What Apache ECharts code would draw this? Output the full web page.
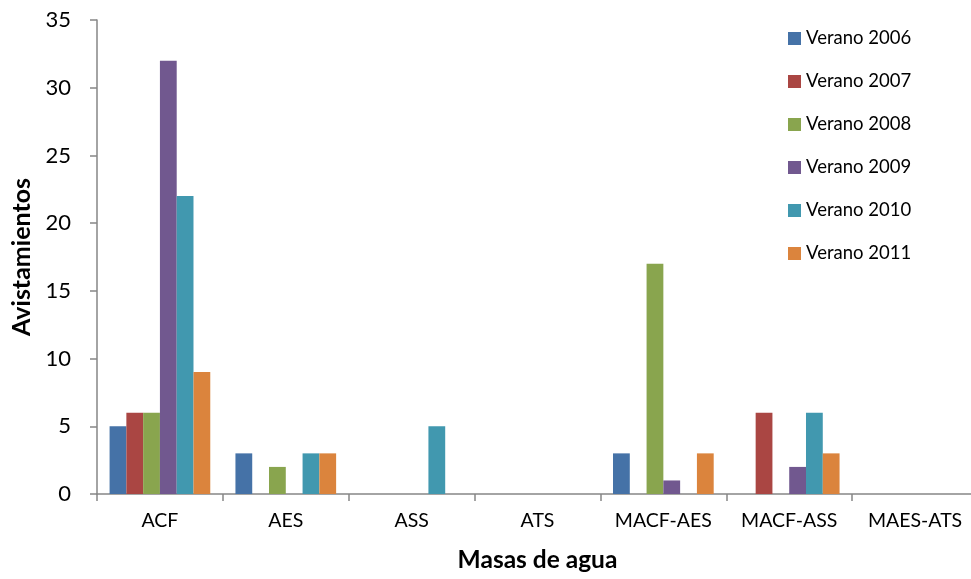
<!DOCTYPE html>
<html>
<head>
<meta charset="utf-8">
<script src="https://cdn.jsdelivr.net/npm/echarts@6/dist/echarts.min.js"></script>
<style>
html,body{margin:0;padding:0;background:#fff;}
#chart{width:971px;height:579px;}
</style>
</head>
<body>
<div id="chart"></div>
<script>
// Water masses along the x axis
var categories = ['ACF', 'AES', 'ASS', 'ATS', 'MACF-AES', 'MACF-ASS', 'MAES-ATS'];

// Sightings per summer campaign, one value per water mass
var seriesNames = ['Verano 2006', 'Verano 2007', 'Verano 2008', 'Verano 2009', 'Verano 2010', 'Verano 2011'];
var verano2006 = [5, 3, 0, 0, 3, 0, 0];
var verano2007 = [6, 0, 0, 0, 0, 6, 0];
var verano2008 = [6, 2, 0, 0, 17, 0, 0];
var verano2009 = [32, 0, 0, 0, 1, 2, 0];
var verano2010 = [22, 3, 5, 0, 0, 6, 0];
var verano2011 = [9, 3, 0, 0, 3, 3, 0];

var yTicks = [0, 5, 10, 15, 20, 25, 30, 35];

var seriesData = [verano2006, verano2007, verano2008, verano2009, verano2010, verano2011];
var colors = ['#4572A7', '#AA4643', '#89A54E', '#71588F', '#4198AF', '#DB843D'];
var font = 'Lato, "Open Sans", sans-serif';

var chart = echarts.init(document.getElementById('chart'));
chart.setOption({
  animation: false,
  color: colors,
  textStyle: { fontFamily: font, color: '#000' },
  grid: { left: 97, right: -7, top: 20, bottom: 85, containLabel: false, outerBoundsMode: 'none' },
  legend: {
    orient: 'vertical',
    left: 788,
    top: 29,
    padding: 0,
    itemWidth: 13,
    itemHeight: 13,
    itemGap: 24,
    icon: 'rect',
    textStyle: { fontFamily: font, fontSize: 18.5, color: '#000' },
    data: seriesNames
  },
  xAxis: {
    type: 'category',
    data: categories,
    name: 'Masas de agua',
    nameLocation: 'middle',
    nameGap: 54,
    nameTextStyle: { fontFamily: font, fontSize: 24.5, fontWeight: 'bold', color: '#000' },
    axisLine: { lineStyle: { color: '#868686', width: 1.5 } },
    axisTick: { show: true, interval: 0, length: 7, lineStyle: { color: '#868686', width: 1.5 } },
    axisLabel: { interval: 0, hideOverlap: false, fontFamily: font, fontSize: 19.5, color: '#000', margin: 17 }
  },
  yAxis: {
    type: 'value',
    min: yTicks[0],
    max: yTicks[yTicks.length - 1],
    interval: 5,
    name: 'Avistamientos',
    nameLocation: 'middle',
    nameRotate: 90,
    nameGap: 58,
    nameTextStyle: { fontFamily: font, fontSize: 25, fontWeight: 'bold', color: '#000' },
    axisLine: { show: true, lineStyle: { color: '#868686', width: 1.5 } },
    axisTick: { show: true, length: 7, lineStyle: { color: '#868686', width: 1.5 } },
    splitLine: { show: false },
    axisLabel: { fontFamily: font, fontSize: 22, color: '#000', margin: 26 }
  },
  series: seriesNames.map(function (name, i) {
    return {
      name: name,
      type: 'bar',
      data: seriesData[i],
      barGap: '0%',
      barCategoryGap: '20%',
      itemStyle: { color: colors[i] }
    };
  })
});
</script>
</body>
</html>
